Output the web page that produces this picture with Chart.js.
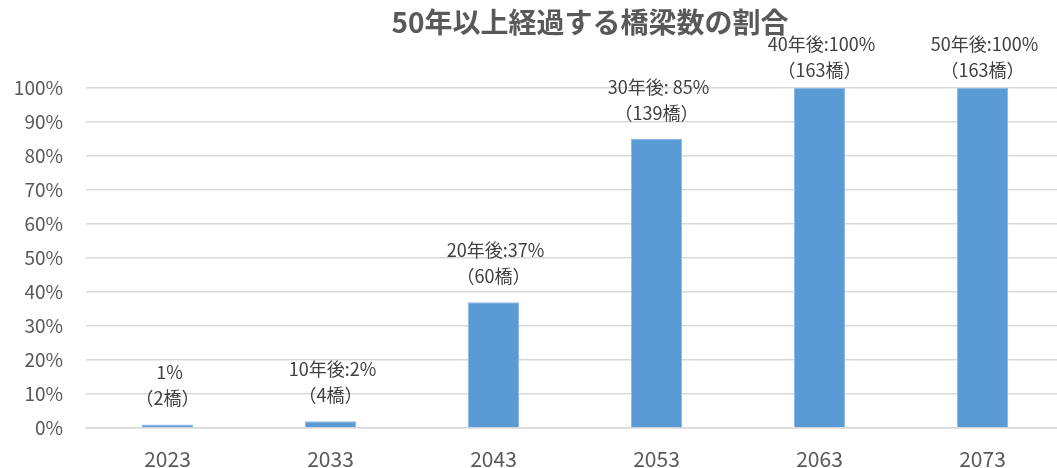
<!DOCTYPE html>
<html>
<head>
<meta charset="utf-8">
<script src="https://cdn.jsdelivr.net/npm/chart.js@4"></script>
<style>
html,body{margin:0;padding:0;background:#fff;overflow:hidden;}
#wrap{position:relative;width:1070px;height:468px;}
</style>
</head>
<body>
<div id="wrap"><canvas id="c"></canvas></div>
<script>
const categories = ['2023','2033','2043','2053','2063','2073'];
const values = [1, 2, 37, 85, 100, 100];
const labelTop = ['1%','10年後:2%','20年後:37%','30年後: 85%','40年後:100%','50年後:100%'];
const labelBottom = ['（2橋）','（4橋）','（60橋）','（139橋）','（163橋）','（163橋）'];
const titleText = '50年以上経過する橋梁数の割合';

const FONT = "'Noto Sans CJK JP', 'Noto Sans', sans-serif";

const titlePlugin = {
  id: 'customTitle',
  afterDraw(chart) {
    const ctx = chart.ctx;
    ctx.save();
    ctx.fillStyle = '#595959';
    ctx.font = 'bold 28px ' + FONT;
    ctx.textAlign = 'center';
    ctx.textBaseline = 'middle';
    ctx.fillText(titleText, 590, 22);
    ctx.restore();
  }
};

const barLabels = {
  id: 'barLabels',
  afterDatasetsDraw(chart) {
    const ctx = chart.ctx;
    const meta = chart.getDatasetMeta(0);
    ctx.save();
    ctx.fillStyle = '#404040';
    ctx.font = '18px ' + FONT;
    ctx.textAlign = 'center';
    ctx.textBaseline = 'middle';
    meta.data.forEach((bar, i) => {
      const y1 = Math.max(bar.y - 52, 44);
      ctx.fillText(labelTop[i], bar.x + 2, y1);
      ctx.fillText(labelBottom[i], bar.x, y1 + 26);
    });
    ctx.restore();
  }
};

new Chart(document.getElementById('c'), {
  type: 'bar',
  data: {
    labels: categories,
    datasets: [{
      data: values,
      backgroundColor: '#5b9bd5',
      borderColor: '#8dbbe6',
      borderWidth: 1,
      categoryPercentage: 1,
      barPercentage: 0.313
    }]
  },
  options: {
    responsive: true,
    maintainAspectRatio: false,
    animation: false,
    layout: { padding: { left: 0, right: 6, top: 88, bottom: 0 } },
    plugins: {
      legend: { display: false },
      tooltip: { enabled: false },
      title: { display: false }
    },
    scales: {
      x: {
        grid: { display: false, drawTicks: false },
        border: { display: true, color: '#d9d9d9', width: 1.5 },
        ticks: { color: '#595959', font: { family: FONT, size: 21 }, padding: 18 },
        afterFit(scale) { scale.height = 40; }
      },
      y: {
        min: 0, max: 100,
        grid: { color: '#d9d9d9', lineWidth: 1.5, drawTicks: false },
        border: { display: false },
        ticks: {
          stepSize: 10,
          color: '#595959',
          font: { family: FONT, size: 19 },
          padding: 23,
          callback: v => v + '%'
        },
        afterFit(scale) { scale.width = 86; }
      }
    }
  },
  plugins: [barLabels, titlePlugin]
});
</script>
</body>
</html>
